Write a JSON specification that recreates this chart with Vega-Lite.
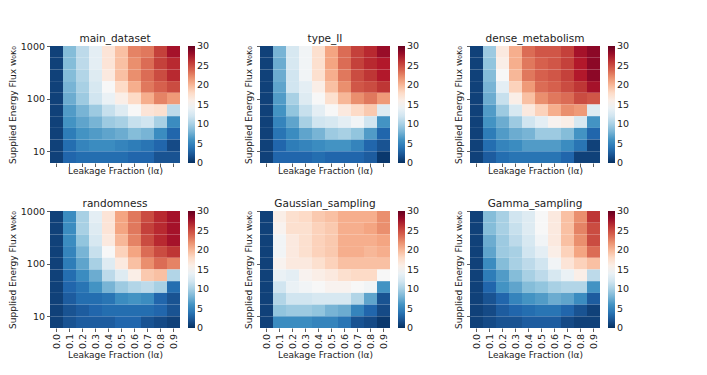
{
 "$schema": "https://vega.github.io/schema/vega-lite/v6.json",
 "padding": {"left": 8, "top": 33, "right": 0, "bottom": 0},
 "config": {
  "font": "DejaVu Sans",
  "view": {"stroke": null},
  "axis": {"domain": false, "grid": false, "tickColor": "#333", "tickSize": 3.5, "tickWidth": 0.8, "labelFont": "DejaVu Sans", "labelFontSize": 9.5, "labelColor": "#222", "titleFont": "DejaVu Sans", "titleFontSize": 9, "titleFontWeight": "normal", "titleColor": "#222", "labelPadding": 2, "titlePadding": 3},
  "legend": {"gradientLength": 117, "gradientThickness": 7, "gradientStrokeWidth": 0, "labelFont": "DejaVu Sans", "labelFontSize": 9.5, "labelColor": "#222", "offset": 8, "labelOffset": 4, "direction": "vertical"},
  "title": {"font": "DejaVu Sans", "fontSize": 10.5, "fontWeight": "normal", "color": "#222", "offset": -3, "frame": "group"}
 },
 "columns": 3,
 "spacing": {"row": 22, "column": 34},
 "resolve": {"scale": {"color": "independent"}, "legend": {"color": "independent"}},
 "concat": [
  {"title": {"text": "main_dataset", "offset": -3}, "data": {"name": "main_dataset"}, "width": 130, "height": 117, "mark": "rect",
   "encoding": {
    "x": {"field": "l", "type": "ordinal", "scale": {"paddingInner": 0, "paddingOuter": 0}, "axis": {"title": "Leakage Fraction (lα)", "labels": false, "titlePadding": -0.5}},
    "y": {"field": "hi", "type": "quantitative", "scale": {"type": "log", "domain": [5.995, 1000], "nice": false}, "axis": {"title": "Supplied Energy Flux w₀κ₀", "values": [10, 100, 1000], "format": "d"}},
    "y2": {"field": "lo"},
    "color": {"field": "v", "type": "quantitative", "scale": {"domain": [0, 3, 6, 9, 12, 15, 18, 21, 24, 27, 30], "range": ["#053061", "#2166ac", "#4393c3", "#92c5de", "#d1e5f0", "#f7f7f7", "#fddbc7", "#f4a582", "#d6604d", "#b2182b", "#67001f"]}, "legend": {"title": null, "values": [0, 5, 10, 15, 20, 25, 30], "encode": {"labels": {"update": {"baseline": {"value": "middle"}}}}}}}},
  {"title": {"text": "type_II", "offset": 1.5}, "data": {"name": "type_II"}, "width": 130, "height": 117, "mark": "rect",
   "encoding": {
    "x": {"field": "l", "type": "ordinal", "scale": {"paddingInner": 0, "paddingOuter": 0}, "axis": {"title": "Leakage Fraction (lα)", "labels": false, "titlePadding": -0.5}},
    "y": {"field": "hi", "type": "quantitative", "scale": {"type": "log", "domain": [5.995, 1000], "nice": false}, "axis": {"title": "Supplied Energy Flux w₀κ₀", "values": [10, 100, 1000], "labels": false}},
    "y2": {"field": "lo"},
    "color": {"field": "v", "type": "quantitative", "scale": {"domain": [0, 3, 6, 9, 12, 15, 18, 21, 24, 27, 30], "range": ["#053061", "#2166ac", "#4393c3", "#92c5de", "#d1e5f0", "#f7f7f7", "#fddbc7", "#f4a582", "#d6604d", "#b2182b", "#67001f"]}, "legend": {"title": null, "values": [0, 5, 10, 15, 20, 25, 30], "encode": {"labels": {"update": {"baseline": {"value": "middle"}}}}}}}},
  {"title": {"text": "dense_metabolism", "offset": 1.5}, "data": {"name": "dense_metabolism"}, "width": 130, "height": 117, "mark": "rect",
   "encoding": {
    "x": {"field": "l", "type": "ordinal", "scale": {"paddingInner": 0, "paddingOuter": 0}, "axis": {"title": "Leakage Fraction (lα)", "labels": false, "titlePadding": -0.5}},
    "y": {"field": "hi", "type": "quantitative", "scale": {"type": "log", "domain": [5.995, 1000], "nice": false}, "axis": {"title": "Supplied Energy Flux w₀κ₀", "values": [10, 100, 1000], "labels": false}},
    "y2": {"field": "lo"},
    "color": {"field": "v", "type": "quantitative", "scale": {"domain": [0, 3, 6, 9, 12, 15, 18, 21, 24, 27, 30], "range": ["#053061", "#2166ac", "#4393c3", "#92c5de", "#d1e5f0", "#f7f7f7", "#fddbc7", "#f4a582", "#d6604d", "#b2182b", "#67001f"]}, "legend": {"title": null, "values": [0, 5, 10, 15, 20, 25, 30], "encode": {"labels": {"update": {"baseline": {"value": "middle"}}}}}}}},
  {"title": {"text": "randomness", "offset": -3}, "data": {"name": "randomness"}, "width": 130, "height": 117, "mark": "rect",
   "encoding": {
    "x": {"field": "l", "type": "ordinal", "scale": {"paddingInner": 0, "paddingOuter": 0}, "axis": {"title": "Leakage Fraction (lα)", "labelAngle": -90, "titlePadding": 2}},
    "y": {"field": "hi", "type": "quantitative", "scale": {"type": "log", "domain": [5.995, 1000], "nice": false}, "axis": {"title": "Supplied Energy Flux w₀κ₀", "values": [10, 100, 1000], "format": "d"}},
    "y2": {"field": "lo"},
    "color": {"field": "v", "type": "quantitative", "scale": {"domain": [0, 3, 6, 9, 12, 15, 18, 21, 24, 27, 30], "range": ["#053061", "#2166ac", "#4393c3", "#92c5de", "#d1e5f0", "#f7f7f7", "#fddbc7", "#f4a582", "#d6604d", "#b2182b", "#67001f"]}, "legend": {"title": null, "values": [0, 5, 10, 15, 20, 25, 30], "encode": {"labels": {"update": {"baseline": {"value": "middle"}}}}}}}},
  {"title": {"text": "Gaussian_sampling", "offset": 1.5}, "data": {"name": "Gaussian_sampling"}, "width": 130, "height": 117, "mark": "rect",
   "encoding": {
    "x": {"field": "l", "type": "ordinal", "scale": {"paddingInner": 0, "paddingOuter": 0}, "axis": {"title": "Leakage Fraction (lα)", "labelAngle": -90, "titlePadding": 2}},
    "y": {"field": "hi", "type": "quantitative", "scale": {"type": "log", "domain": [5.995, 1000], "nice": false}, "axis": {"title": "Supplied Energy Flux w₀κ₀", "values": [10, 100, 1000], "labels": false}},
    "y2": {"field": "lo"},
    "color": {"field": "v", "type": "quantitative", "scale": {"domain": [0, 3, 6, 9, 12, 15, 18, 21, 24, 27, 30], "range": ["#053061", "#2166ac", "#4393c3", "#92c5de", "#d1e5f0", "#f7f7f7", "#fddbc7", "#f4a582", "#d6604d", "#b2182b", "#67001f"]}, "legend": {"title": null, "values": [0, 5, 10, 15, 20, 25, 30], "encode": {"labels": {"update": {"baseline": {"value": "middle"}}}}}}}},
  {"title": {"text": "Gamma_sampling", "offset": 1.5}, "data": {"name": "Gamma_sampling"}, "width": 130, "height": 117, "mark": "rect",
   "encoding": {
    "x": {"field": "l", "type": "ordinal", "scale": {"paddingInner": 0, "paddingOuter": 0}, "axis": {"title": "Leakage Fraction (lα)", "labelAngle": -90, "titlePadding": 2}},
    "y": {"field": "hi", "type": "quantitative", "scale": {"type": "log", "domain": [5.995, 1000], "nice": false}, "axis": {"title": "Supplied Energy Flux w₀κ₀", "values": [10, 100, 1000], "labels": false}},
    "y2": {"field": "lo"},
    "color": {"field": "v", "type": "quantitative", "scale": {"domain": [0, 3, 6, 9, 12, 15, 18, 21, 24, 27, 30], "range": ["#053061", "#2166ac", "#4393c3", "#92c5de", "#d1e5f0", "#f7f7f7", "#fddbc7", "#f4a582", "#d6604d", "#b2182b", "#67001f"]}, "legend": {"title": null, "values": [0, 5, 10, 15, 20, 25, 30], "encode": {"labels": {"update": {"baseline": {"value": "middle"}}}}}}}}
 ],
 "datasets": {
  "main_dataset": [
   {"l":"0.0","hi":1000,"lo":599.5,"v":1},{"l":"0.1","hi":1000,"lo":599.5,"v":8.5},{"l":"0.2","hi":1000,"lo":599.5,"v":11},{"l":"0.3","hi":1000,"lo":599.5,"v":13.5},{"l":"0.4","hi":1000,"lo":599.5,"v":17},{"l":"0.5","hi":1000,"lo":599.5,"v":19.5},{"l":"0.6","hi":1000,"lo":599.5,"v":22.5},{"l":"0.7","hi":1000,"lo":599.5,"v":23},{"l":"0.8","hi":1000,"lo":599.5,"v":25.5},{"l":"0.9","hi":1000,"lo":599.5,"v":27.5},
   {"l":"0.0","hi":599.5,"lo":359.4,"v":1},{"l":"0.1","hi":599.5,"lo":359.4,"v":8.5},{"l":"0.2","hi":599.5,"lo":359.4,"v":11},{"l":"0.3","hi":599.5,"lo":359.4,"v":13.5},{"l":"0.4","hi":599.5,"lo":359.4,"v":17},{"l":"0.5","hi":599.5,"lo":359.4,"v":19.5},{"l":"0.6","hi":599.5,"lo":359.4,"v":22},{"l":"0.7","hi":599.5,"lo":359.4,"v":23.5},{"l":"0.8","hi":599.5,"lo":359.4,"v":25.5},{"l":"0.9","hi":599.5,"lo":359.4,"v":26.5},
   {"l":"0.0","hi":359.4,"lo":215.4,"v":1},{"l":"0.1","hi":359.4,"lo":215.4,"v":8.5},{"l":"0.2","hi":359.4,"lo":215.4,"v":10.5},{"l":"0.3","hi":359.4,"lo":215.4,"v":13},{"l":"0.4","hi":359.4,"lo":215.4,"v":16.5},{"l":"0.5","hi":359.4,"lo":215.4,"v":19.5},{"l":"0.6","hi":359.4,"lo":215.4,"v":22},{"l":"0.7","hi":359.4,"lo":215.4,"v":23.5},{"l":"0.8","hi":359.4,"lo":215.4,"v":25},{"l":"0.9","hi":359.4,"lo":215.4,"v":26.5},
   {"l":"0.0","hi":215.4,"lo":129.2,"v":1},{"l":"0.1","hi":215.4,"lo":129.2,"v":8},{"l":"0.2","hi":215.4,"lo":129.2,"v":10},{"l":"0.3","hi":215.4,"lo":129.2,"v":12.5},{"l":"0.4","hi":215.4,"lo":129.2,"v":15},{"l":"0.5","hi":215.4,"lo":129.2,"v":18},{"l":"0.6","hi":215.4,"lo":129.2,"v":20.5},{"l":"0.7","hi":215.4,"lo":129.2,"v":23},{"l":"0.8","hi":215.4,"lo":129.2,"v":24},{"l":"0.9","hi":215.4,"lo":129.2,"v":25},
   {"l":"0.0","hi":129.2,"lo":77.43,"v":1},{"l":"0.1","hi":129.2,"lo":77.43,"v":7.5},{"l":"0.2","hi":129.2,"lo":77.43,"v":9.5},{"l":"0.3","hi":129.2,"lo":77.43,"v":12},{"l":"0.4","hi":129.2,"lo":77.43,"v":14},{"l":"0.5","hi":129.2,"lo":77.43,"v":16},{"l":"0.6","hi":129.2,"lo":77.43,"v":18},{"l":"0.7","hi":129.2,"lo":77.43,"v":20.5},{"l":"0.8","hi":129.2,"lo":77.43,"v":22.5},{"l":"0.9","hi":129.2,"lo":77.43,"v":21.5},
   {"l":"0.0","hi":77.43,"lo":46.42,"v":1},{"l":"0.1","hi":77.43,"lo":46.42,"v":6.5},{"l":"0.2","hi":77.43,"lo":46.42,"v":8},{"l":"0.3","hi":77.43,"lo":46.42,"v":9.5},{"l":"0.4","hi":77.43,"lo":46.42,"v":11.5},{"l":"0.5","hi":77.43,"lo":46.42,"v":13},{"l":"0.6","hi":77.43,"lo":46.42,"v":15},{"l":"0.7","hi":77.43,"lo":46.42,"v":17},{"l":"0.8","hi":77.43,"lo":46.42,"v":17.5},{"l":"0.9","hi":77.43,"lo":46.42,"v":11},
   {"l":"0.0","hi":46.42,"lo":27.83,"v":1},{"l":"0.1","hi":46.42,"lo":27.83,"v":6},{"l":"0.2","hi":46.42,"lo":27.83,"v":7},{"l":"0.3","hi":46.42,"lo":27.83,"v":8},{"l":"0.4","hi":46.42,"lo":27.83,"v":9.5},{"l":"0.5","hi":46.42,"lo":27.83,"v":10},{"l":"0.6","hi":46.42,"lo":27.83,"v":11.5},{"l":"0.7","hi":46.42,"lo":27.83,"v":12},{"l":"0.8","hi":46.42,"lo":27.83,"v":10},{"l":"0.9","hi":46.42,"lo":27.83,"v":5.5},
   {"l":"0.0","hi":27.83,"lo":16.68,"v":1},{"l":"0.1","hi":27.83,"lo":16.68,"v":4.5},{"l":"0.2","hi":27.83,"lo":16.68,"v":6},{"l":"0.3","hi":27.83,"lo":16.68,"v":6.5},{"l":"0.4","hi":27.83,"lo":16.68,"v":7},{"l":"0.5","hi":27.83,"lo":16.68,"v":7.5},{"l":"0.6","hi":27.83,"lo":16.68,"v":8.5},{"l":"0.7","hi":27.83,"lo":16.68,"v":8},{"l":"0.8","hi":27.83,"lo":16.68,"v":5.5},{"l":"0.9","hi":27.83,"lo":16.68,"v":3},
   {"l":"0.0","hi":16.68,"lo":10,"v":1},{"l":"0.1","hi":16.68,"lo":10,"v":3.5},{"l":"0.2","hi":16.68,"lo":10,"v":5},{"l":"0.3","hi":16.68,"lo":10,"v":5.5},{"l":"0.4","hi":16.68,"lo":10,"v":5.5},{"l":"0.5","hi":16.68,"lo":10,"v":5},{"l":"0.6","hi":16.68,"lo":10,"v":4.5},{"l":"0.7","hi":16.68,"lo":10,"v":4},{"l":"0.8","hi":16.68,"lo":10,"v":3},{"l":"0.9","hi":16.68,"lo":10,"v":1.5},
   {"l":"0.0","hi":10,"lo":5.995,"v":1},{"l":"0.1","hi":10,"lo":5.995,"v":3},{"l":"0.2","hi":10,"lo":5.995,"v":3.5},{"l":"0.3","hi":10,"lo":5.995,"v":3.5},{"l":"0.4","hi":10,"lo":5.995,"v":3.5},{"l":"0.5","hi":10,"lo":5.995,"v":3.5},{"l":"0.6","hi":10,"lo":5.995,"v":3},{"l":"0.7","hi":10,"lo":5.995,"v":3},{"l":"0.8","hi":10,"lo":5.995,"v":2},{"l":"0.9","hi":10,"lo":5.995,"v":2}
  ],
  "type_II": [
   {"l":"0.0","hi":1000,"lo":599.5,"v":1},{"l":"0.1","hi":1000,"lo":599.5,"v":8},{"l":"0.2","hi":1000,"lo":599.5,"v":12.5},{"l":"0.3","hi":1000,"lo":599.5,"v":14.5},{"l":"0.4","hi":1000,"lo":599.5,"v":17.5},{"l":"0.5","hi":1000,"lo":599.5,"v":21},{"l":"0.6","hi":1000,"lo":599.5,"v":23.5},{"l":"0.7","hi":1000,"lo":599.5,"v":25.5},{"l":"0.8","hi":1000,"lo":599.5,"v":26.5},{"l":"0.9","hi":1000,"lo":599.5,"v":28},
   {"l":"0.0","hi":599.5,"lo":359.4,"v":1},{"l":"0.1","hi":599.5,"lo":359.4,"v":7.5},{"l":"0.2","hi":599.5,"lo":359.4,"v":12.5},{"l":"0.3","hi":599.5,"lo":359.4,"v":14.5},{"l":"0.4","hi":599.5,"lo":359.4,"v":17.5},{"l":"0.5","hi":599.5,"lo":359.4,"v":21},{"l":"0.6","hi":599.5,"lo":359.4,"v":23.5},{"l":"0.7","hi":599.5,"lo":359.4,"v":25.5},{"l":"0.8","hi":599.5,"lo":359.4,"v":26.5},{"l":"0.9","hi":599.5,"lo":359.4,"v":27},
   {"l":"0.0","hi":359.4,"lo":215.4,"v":1},{"l":"0.1","hi":359.4,"lo":215.4,"v":7.5},{"l":"0.2","hi":359.4,"lo":215.4,"v":12},{"l":"0.3","hi":359.4,"lo":215.4,"v":14.5},{"l":"0.4","hi":359.4,"lo":215.4,"v":17.5},{"l":"0.5","hi":359.4,"lo":215.4,"v":20.5},{"l":"0.6","hi":359.4,"lo":215.4,"v":23},{"l":"0.7","hi":359.4,"lo":215.4,"v":25},{"l":"0.8","hi":359.4,"lo":215.4,"v":26},{"l":"0.9","hi":359.4,"lo":215.4,"v":27},
   {"l":"0.0","hi":215.4,"lo":129.2,"v":1},{"l":"0.1","hi":215.4,"lo":129.2,"v":7},{"l":"0.2","hi":215.4,"lo":129.2,"v":12},{"l":"0.3","hi":215.4,"lo":129.2,"v":13.5},{"l":"0.4","hi":215.4,"lo":129.2,"v":16},{"l":"0.5","hi":215.4,"lo":129.2,"v":19.5},{"l":"0.6","hi":215.4,"lo":129.2,"v":22},{"l":"0.7","hi":215.4,"lo":129.2,"v":24.5},{"l":"0.8","hi":215.4,"lo":129.2,"v":25},{"l":"0.9","hi":215.4,"lo":129.2,"v":26},
   {"l":"0.0","hi":129.2,"lo":77.43,"v":1},{"l":"0.1","hi":129.2,"lo":77.43,"v":6.5},{"l":"0.2","hi":129.2,"lo":77.43,"v":10},{"l":"0.3","hi":129.2,"lo":77.43,"v":13},{"l":"0.4","hi":129.2,"lo":77.43,"v":15},{"l":"0.5","hi":129.2,"lo":77.43,"v":17.5},{"l":"0.6","hi":129.2,"lo":77.43,"v":20},{"l":"0.7","hi":129.2,"lo":77.43,"v":22},{"l":"0.8","hi":129.2,"lo":77.43,"v":23},{"l":"0.9","hi":129.2,"lo":77.43,"v":21.5},
   {"l":"0.0","hi":77.43,"lo":46.42,"v":1},{"l":"0.1","hi":77.43,"lo":46.42,"v":6},{"l":"0.2","hi":77.43,"lo":46.42,"v":9},{"l":"0.3","hi":77.43,"lo":46.42,"v":11.5},{"l":"0.4","hi":77.43,"lo":46.42,"v":13.5},{"l":"0.5","hi":77.43,"lo":46.42,"v":15},{"l":"0.6","hi":77.43,"lo":46.42,"v":16.5},{"l":"0.7","hi":77.43,"lo":46.42,"v":18},{"l":"0.8","hi":77.43,"lo":46.42,"v":19},{"l":"0.9","hi":77.43,"lo":46.42,"v":13},
   {"l":"0.0","hi":46.42,"lo":27.83,"v":1},{"l":"0.1","hi":46.42,"lo":27.83,"v":5},{"l":"0.2","hi":46.42,"lo":27.83,"v":7},{"l":"0.3","hi":46.42,"lo":27.83,"v":10},{"l":"0.4","hi":46.42,"lo":27.83,"v":12},{"l":"0.5","hi":46.42,"lo":27.83,"v":12.5},{"l":"0.6","hi":46.42,"lo":27.83,"v":13.5},{"l":"0.7","hi":46.42,"lo":27.83,"v":14.5},{"l":"0.8","hi":46.42,"lo":27.83,"v":12},{"l":"0.9","hi":46.42,"lo":27.83,"v":6},
   {"l":"0.0","hi":27.83,"lo":16.68,"v":1},{"l":"0.1","hi":27.83,"lo":16.68,"v":4},{"l":"0.2","hi":27.83,"lo":16.68,"v":5.5},{"l":"0.3","hi":27.83,"lo":16.68,"v":7},{"l":"0.4","hi":27.83,"lo":16.68,"v":8},{"l":"0.5","hi":27.83,"lo":16.68,"v":9.5},{"l":"0.6","hi":27.83,"lo":16.68,"v":10},{"l":"0.7","hi":27.83,"lo":16.68,"v":9},{"l":"0.8","hi":27.83,"lo":16.68,"v":6.5},{"l":"0.9","hi":27.83,"lo":16.68,"v":3},
   {"l":"0.0","hi":16.68,"lo":10,"v":1},{"l":"0.1","hi":16.68,"lo":10,"v":3},{"l":"0.2","hi":16.68,"lo":10,"v":4.5},{"l":"0.3","hi":16.68,"lo":10,"v":5},{"l":"0.4","hi":16.68,"lo":10,"v":5.5},{"l":"0.5","hi":16.68,"lo":10,"v":6},{"l":"0.6","hi":16.68,"lo":10,"v":6},{"l":"0.7","hi":16.68,"lo":10,"v":5},{"l":"0.8","hi":16.68,"lo":10,"v":3},{"l":"0.9","hi":16.68,"lo":10,"v":2},
   {"l":"0.0","hi":10,"lo":5.995,"v":1},{"l":"0.1","hi":10,"lo":5.995,"v":3},{"l":"0.2","hi":10,"lo":5.995,"v":3},{"l":"0.3","hi":10,"lo":5.995,"v":3},{"l":"0.4","hi":10,"lo":5.995,"v":3.5},{"l":"0.5","hi":10,"lo":5.995,"v":3},{"l":"0.6","hi":10,"lo":5.995,"v":3},{"l":"0.7","hi":10,"lo":5.995,"v":3},{"l":"0.8","hi":10,"lo":5.995,"v":2.5},{"l":"0.9","hi":10,"lo":5.995,"v":0.5}
  ],
  "dense_metabolism": [
   {"l":"0.0","hi":1000,"lo":599.5,"v":1},{"l":"0.1","hi":1000,"lo":599.5,"v":9.5},{"l":"0.2","hi":1000,"lo":599.5,"v":16.5},{"l":"0.3","hi":1000,"lo":599.5,"v":20.5},{"l":"0.4","hi":1000,"lo":599.5,"v":23.5},{"l":"0.5","hi":1000,"lo":599.5,"v":24.5},{"l":"0.6","hi":1000,"lo":599.5,"v":24.5},{"l":"0.7","hi":1000,"lo":599.5,"v":25.5},{"l":"0.8","hi":1000,"lo":599.5,"v":27.5},{"l":"0.9","hi":1000,"lo":599.5,"v":28.5},
   {"l":"0.0","hi":599.5,"lo":359.4,"v":1},{"l":"0.1","hi":599.5,"lo":359.4,"v":9},{"l":"0.2","hi":599.5,"lo":359.4,"v":16},{"l":"0.3","hi":599.5,"lo":359.4,"v":20.5},{"l":"0.4","hi":599.5,"lo":359.4,"v":23},{"l":"0.5","hi":599.5,"lo":359.4,"v":24},{"l":"0.6","hi":599.5,"lo":359.4,"v":24.5},{"l":"0.7","hi":599.5,"lo":359.4,"v":25.5},{"l":"0.8","hi":599.5,"lo":359.4,"v":27},{"l":"0.9","hi":599.5,"lo":359.4,"v":28.5},
   {"l":"0.0","hi":359.4,"lo":215.4,"v":1},{"l":"0.1","hi":359.4,"lo":215.4,"v":8.5},{"l":"0.2","hi":359.4,"lo":215.4,"v":15},{"l":"0.3","hi":359.4,"lo":215.4,"v":20},{"l":"0.4","hi":359.4,"lo":215.4,"v":23},{"l":"0.5","hi":359.4,"lo":215.4,"v":24},{"l":"0.6","hi":359.4,"lo":215.4,"v":24.5},{"l":"0.7","hi":359.4,"lo":215.4,"v":25.5},{"l":"0.8","hi":359.4,"lo":215.4,"v":27},{"l":"0.9","hi":359.4,"lo":215.4,"v":28.5},
   {"l":"0.0","hi":215.4,"lo":129.2,"v":1},{"l":"0.1","hi":215.4,"lo":129.2,"v":8},{"l":"0.2","hi":215.4,"lo":129.2,"v":13.5},{"l":"0.3","hi":215.4,"lo":129.2,"v":18.5},{"l":"0.4","hi":215.4,"lo":129.2,"v":21.5},{"l":"0.5","hi":215.4,"lo":129.2,"v":23.5},{"l":"0.6","hi":215.4,"lo":129.2,"v":24},{"l":"0.7","hi":215.4,"lo":129.2,"v":25},{"l":"0.8","hi":215.4,"lo":129.2,"v":26},{"l":"0.9","hi":215.4,"lo":129.2,"v":27.5},
   {"l":"0.0","hi":129.2,"lo":77.43,"v":1},{"l":"0.1","hi":129.2,"lo":77.43,"v":7.5},{"l":"0.2","hi":129.2,"lo":77.43,"v":11.5},{"l":"0.3","hi":129.2,"lo":77.43,"v":16},{"l":"0.4","hi":129.2,"lo":77.43,"v":19.5},{"l":"0.5","hi":129.2,"lo":77.43,"v":22},{"l":"0.6","hi":129.2,"lo":77.43,"v":23},{"l":"0.7","hi":129.2,"lo":77.43,"v":23.5},{"l":"0.8","hi":129.2,"lo":77.43,"v":25},{"l":"0.9","hi":129.2,"lo":77.43,"v":24.5},
   {"l":"0.0","hi":77.43,"lo":46.42,"v":1},{"l":"0.1","hi":77.43,"lo":46.42,"v":6.5},{"l":"0.2","hi":77.43,"lo":46.42,"v":9.5},{"l":"0.3","hi":77.43,"lo":46.42,"v":12.5},{"l":"0.4","hi":77.43,"lo":46.42,"v":16.5},{"l":"0.5","hi":77.43,"lo":46.42,"v":18.5},{"l":"0.6","hi":77.43,"lo":46.42,"v":20.5},{"l":"0.7","hi":77.43,"lo":46.42,"v":22},{"l":"0.8","hi":77.43,"lo":46.42,"v":21.5},{"l":"0.9","hi":77.43,"lo":46.42,"v":13},
   {"l":"0.0","hi":46.42,"lo":27.83,"v":1},{"l":"0.1","hi":46.42,"lo":27.83,"v":6},{"l":"0.2","hi":46.42,"lo":27.83,"v":7.5},{"l":"0.3","hi":46.42,"lo":27.83,"v":9.5},{"l":"0.4","hi":46.42,"lo":27.83,"v":12},{"l":"0.5","hi":46.42,"lo":27.83,"v":13.5},{"l":"0.6","hi":46.42,"lo":27.83,"v":15.5},{"l":"0.7","hi":46.42,"lo":27.83,"v":16},{"l":"0.8","hi":46.42,"lo":27.83,"v":12.5},{"l":"0.9","hi":46.42,"lo":27.83,"v":6},
   {"l":"0.0","hi":27.83,"lo":16.68,"v":1},{"l":"0.1","hi":27.83,"lo":16.68,"v":4.5},{"l":"0.2","hi":27.83,"lo":16.68,"v":6.5},{"l":"0.3","hi":27.83,"lo":16.68,"v":7.5},{"l":"0.4","hi":27.83,"lo":16.68,"v":8},{"l":"0.5","hi":27.83,"lo":16.68,"v":9.5},{"l":"0.6","hi":27.83,"lo":16.68,"v":9.5},{"l":"0.7","hi":27.83,"lo":16.68,"v":8.5},{"l":"0.8","hi":27.83,"lo":16.68,"v":6},{"l":"0.9","hi":27.83,"lo":16.68,"v":3},
   {"l":"0.0","hi":16.68,"lo":10,"v":1},{"l":"0.1","hi":16.68,"lo":10,"v":3.5},{"l":"0.2","hi":16.68,"lo":10,"v":5},{"l":"0.3","hi":16.68,"lo":10,"v":5.5},{"l":"0.4","hi":16.68,"lo":10,"v":6.5},{"l":"0.5","hi":16.68,"lo":10,"v":6.5},{"l":"0.6","hi":16.68,"lo":10,"v":6.5},{"l":"0.7","hi":16.68,"lo":10,"v":5.5},{"l":"0.8","hi":16.68,"lo":10,"v":4},{"l":"0.9","hi":16.68,"lo":10,"v":1},
   {"l":"0.0","hi":10,"lo":5.995,"v":1},{"l":"0.1","hi":10,"lo":5.995,"v":2.5},{"l":"0.2","hi":10,"lo":5.995,"v":3.5},{"l":"0.3","hi":10,"lo":5.995,"v":4},{"l":"0.4","hi":10,"lo":5.995,"v":4},{"l":"0.5","hi":10,"lo":5.995,"v":4},{"l":"0.6","hi":10,"lo":5.995,"v":4},{"l":"0.7","hi":10,"lo":5.995,"v":3},{"l":"0.8","hi":10,"lo":5.995,"v":1},{"l":"0.9","hi":10,"lo":5.995,"v":1}
  ],
  "randomness": [
   {"l":"0.0","hi":1000,"lo":599.5,"v":1},{"l":"0.1","hi":1000,"lo":599.5,"v":5.5},{"l":"0.2","hi":1000,"lo":599.5,"v":10},{"l":"0.3","hi":1000,"lo":599.5,"v":13.5},{"l":"0.4","hi":1000,"lo":599.5,"v":17},{"l":"0.5","hi":1000,"lo":599.5,"v":21},{"l":"0.6","hi":1000,"lo":599.5,"v":23},{"l":"0.7","hi":1000,"lo":599.5,"v":25},{"l":"0.8","hi":1000,"lo":599.5,"v":26.5},{"l":"0.9","hi":1000,"lo":599.5,"v":27.5},
   {"l":"0.0","hi":599.5,"lo":359.4,"v":1},{"l":"0.1","hi":599.5,"lo":359.4,"v":5.5},{"l":"0.2","hi":599.5,"lo":359.4,"v":10},{"l":"0.3","hi":599.5,"lo":359.4,"v":13},{"l":"0.4","hi":599.5,"lo":359.4,"v":17},{"l":"0.5","hi":599.5,"lo":359.4,"v":21},{"l":"0.6","hi":599.5,"lo":359.4,"v":23},{"l":"0.7","hi":599.5,"lo":359.4,"v":25.5},{"l":"0.8","hi":599.5,"lo":359.4,"v":26.5},{"l":"0.9","hi":599.5,"lo":359.4,"v":27.5},
   {"l":"0.0","hi":359.4,"lo":215.4,"v":1},{"l":"0.1","hi":359.4,"lo":215.4,"v":5.5},{"l":"0.2","hi":359.4,"lo":215.4,"v":9},{"l":"0.3","hi":359.4,"lo":215.4,"v":12.5},{"l":"0.4","hi":359.4,"lo":215.4,"v":16.5},{"l":"0.5","hi":359.4,"lo":215.4,"v":20},{"l":"0.6","hi":359.4,"lo":215.4,"v":22.5},{"l":"0.7","hi":359.4,"lo":215.4,"v":25},{"l":"0.8","hi":359.4,"lo":215.4,"v":26.5},{"l":"0.9","hi":359.4,"lo":215.4,"v":27.5},
   {"l":"0.0","hi":215.4,"lo":129.2,"v":1},{"l":"0.1","hi":215.4,"lo":129.2,"v":5},{"l":"0.2","hi":215.4,"lo":129.2,"v":8},{"l":"0.3","hi":215.4,"lo":129.2,"v":11.5},{"l":"0.4","hi":215.4,"lo":129.2,"v":15},{"l":"0.5","hi":215.4,"lo":129.2,"v":18.5},{"l":"0.6","hi":215.4,"lo":129.2,"v":21},{"l":"0.7","hi":215.4,"lo":129.2,"v":23.5},{"l":"0.8","hi":215.4,"lo":129.2,"v":25},{"l":"0.9","hi":215.4,"lo":129.2,"v":26},
   {"l":"0.0","hi":129.2,"lo":77.43,"v":1},{"l":"0.1","hi":129.2,"lo":77.43,"v":4.5},{"l":"0.2","hi":129.2,"lo":77.43,"v":7},{"l":"0.3","hi":129.2,"lo":77.43,"v":10},{"l":"0.4","hi":129.2,"lo":77.43,"v":13},{"l":"0.5","hi":129.2,"lo":77.43,"v":16.5},{"l":"0.6","hi":129.2,"lo":77.43,"v":19.5},{"l":"0.7","hi":129.2,"lo":77.43,"v":22},{"l":"0.8","hi":129.2,"lo":77.43,"v":23.5},{"l":"0.9","hi":129.2,"lo":77.43,"v":22.5},
   {"l":"0.0","hi":77.43,"lo":46.42,"v":1},{"l":"0.1","hi":77.43,"lo":46.42,"v":3.5},{"l":"0.2","hi":77.43,"lo":46.42,"v":5.5},{"l":"0.3","hi":77.43,"lo":46.42,"v":7.5},{"l":"0.4","hi":77.43,"lo":46.42,"v":11},{"l":"0.5","hi":77.43,"lo":46.42,"v":13},{"l":"0.6","hi":77.43,"lo":46.42,"v":16},{"l":"0.7","hi":77.43,"lo":46.42,"v":19},{"l":"0.8","hi":77.43,"lo":46.42,"v":19.5},{"l":"0.9","hi":77.43,"lo":46.42,"v":10.5},
   {"l":"0.0","hi":46.42,"lo":27.83,"v":1},{"l":"0.1","hi":46.42,"lo":27.83,"v":3},{"l":"0.2","hi":46.42,"lo":27.83,"v":4},{"l":"0.3","hi":46.42,"lo":27.83,"v":6},{"l":"0.4","hi":46.42,"lo":27.83,"v":8},{"l":"0.5","hi":46.42,"lo":27.83,"v":9.5},{"l":"0.6","hi":46.42,"lo":27.83,"v":10.5},{"l":"0.7","hi":46.42,"lo":27.83,"v":11},{"l":"0.8","hi":46.42,"lo":27.83,"v":10},{"l":"0.9","hi":46.42,"lo":27.83,"v":3.5},
   {"l":"0.0","hi":27.83,"lo":16.68,"v":1},{"l":"0.1","hi":27.83,"lo":16.68,"v":2.5},{"l":"0.2","hi":27.83,"lo":16.68,"v":3.5},{"l":"0.3","hi":27.83,"lo":16.68,"v":3.5},{"l":"0.4","hi":27.83,"lo":16.68,"v":4},{"l":"0.5","hi":27.83,"lo":16.68,"v":5.5},{"l":"0.6","hi":27.83,"lo":16.68,"v":6},{"l":"0.7","hi":27.83,"lo":16.68,"v":5.5},{"l":"0.8","hi":27.83,"lo":16.68,"v":3},{"l":"0.9","hi":27.83,"lo":16.68,"v":2},
   {"l":"0.0","hi":16.68,"lo":10,"v":1},{"l":"0.1","hi":16.68,"lo":10,"v":2},{"l":"0.2","hi":16.68,"lo":10,"v":2.5},{"l":"0.3","hi":16.68,"lo":10,"v":3},{"l":"0.4","hi":16.68,"lo":10,"v":3.5},{"l":"0.5","hi":16.68,"lo":10,"v":3.5},{"l":"0.6","hi":16.68,"lo":10,"v":3.5},{"l":"0.7","hi":16.68,"lo":10,"v":3.5},{"l":"0.8","hi":16.68,"lo":10,"v":3},{"l":"0.9","hi":16.68,"lo":10,"v":2},
   {"l":"0.0","hi":10,"lo":5.995,"v":1},{"l":"0.1","hi":10,"lo":5.995,"v":2},{"l":"0.2","hi":10,"lo":5.995,"v":2.5},{"l":"0.3","hi":10,"lo":5.995,"v":2.5},{"l":"0.4","hi":10,"lo":5.995,"v":2.5},{"l":"0.5","hi":10,"lo":5.995,"v":3},{"l":"0.6","hi":10,"lo":5.995,"v":3},{"l":"0.7","hi":10,"lo":5.995,"v":2},{"l":"0.8","hi":10,"lo":5.995,"v":1.5},{"l":"0.9","hi":10,"lo":5.995,"v":1}
  ],
  "Gaussian_sampling": [
   {"l":"0.0","hi":1000,"lo":599.5,"v":1},{"l":"0.1","hi":1000,"lo":599.5,"v":16},{"l":"0.2","hi":1000,"lo":599.5,"v":17.5},{"l":"0.3","hi":1000,"lo":599.5,"v":18},{"l":"0.4","hi":1000,"lo":599.5,"v":19},{"l":"0.5","hi":1000,"lo":599.5,"v":19.5},{"l":"0.6","hi":1000,"lo":599.5,"v":20.5},{"l":"0.7","hi":1000,"lo":599.5,"v":20.5},{"l":"0.8","hi":1000,"lo":599.5,"v":20.5},{"l":"0.9","hi":1000,"lo":599.5,"v":22},
   {"l":"0.0","hi":599.5,"lo":359.4,"v":1},{"l":"0.1","hi":599.5,"lo":359.4,"v":15.5},{"l":"0.2","hi":599.5,"lo":359.4,"v":17.5},{"l":"0.3","hi":599.5,"lo":359.4,"v":17.5},{"l":"0.4","hi":599.5,"lo":359.4,"v":18.5},{"l":"0.5","hi":599.5,"lo":359.4,"v":19},{"l":"0.6","hi":599.5,"lo":359.4,"v":20.5},{"l":"0.7","hi":599.5,"lo":359.4,"v":20.5},{"l":"0.8","hi":599.5,"lo":359.4,"v":21},{"l":"0.9","hi":599.5,"lo":359.4,"v":22},
   {"l":"0.0","hi":359.4,"lo":215.4,"v":1},{"l":"0.1","hi":359.4,"lo":215.4,"v":14.5},{"l":"0.2","hi":359.4,"lo":215.4,"v":16.5},{"l":"0.3","hi":359.4,"lo":215.4,"v":17.5},{"l":"0.4","hi":359.4,"lo":215.4,"v":18.5},{"l":"0.5","hi":359.4,"lo":215.4,"v":19},{"l":"0.6","hi":359.4,"lo":215.4,"v":20.5},{"l":"0.7","hi":359.4,"lo":215.4,"v":20.5},{"l":"0.8","hi":359.4,"lo":215.4,"v":20.5},{"l":"0.9","hi":359.4,"lo":215.4,"v":21},
   {"l":"0.0","hi":215.4,"lo":129.2,"v":1},{"l":"0.1","hi":215.4,"lo":129.2,"v":14.5},{"l":"0.2","hi":215.4,"lo":129.2,"v":16.5},{"l":"0.3","hi":215.4,"lo":129.2,"v":17.5},{"l":"0.4","hi":215.4,"lo":129.2,"v":18.5},{"l":"0.5","hi":215.4,"lo":129.2,"v":19},{"l":"0.6","hi":215.4,"lo":129.2,"v":20.5},{"l":"0.7","hi":215.4,"lo":129.2,"v":20.5},{"l":"0.8","hi":215.4,"lo":129.2,"v":20},{"l":"0.9","hi":215.4,"lo":129.2,"v":20.5},
   {"l":"0.0","hi":129.2,"lo":77.43,"v":1},{"l":"0.1","hi":129.2,"lo":77.43,"v":15.5},{"l":"0.2","hi":129.2,"lo":77.43,"v":16.5},{"l":"0.3","hi":129.2,"lo":77.43,"v":16.5},{"l":"0.4","hi":129.2,"lo":77.43,"v":17.5},{"l":"0.5","hi":129.2,"lo":77.43,"v":18.5},{"l":"0.6","hi":129.2,"lo":77.43,"v":19.5},{"l":"0.7","hi":129.2,"lo":77.43,"v":19.5},{"l":"0.8","hi":129.2,"lo":77.43,"v":19.5},{"l":"0.9","hi":129.2,"lo":77.43,"v":19.5},
   {"l":"0.0","hi":77.43,"lo":46.42,"v":1},{"l":"0.1","hi":77.43,"lo":46.42,"v":14},{"l":"0.2","hi":77.43,"lo":46.42,"v":13.5},{"l":"0.3","hi":77.43,"lo":46.42,"v":15.5},{"l":"0.4","hi":77.43,"lo":46.42,"v":16},{"l":"0.5","hi":77.43,"lo":46.42,"v":16.5},{"l":"0.6","hi":77.43,"lo":46.42,"v":17.5},{"l":"0.7","hi":77.43,"lo":46.42,"v":18},{"l":"0.8","hi":77.43,"lo":46.42,"v":18},{"l":"0.9","hi":77.43,"lo":46.42,"v":15},
   {"l":"0.0","hi":46.42,"lo":27.83,"v":1},{"l":"0.1","hi":46.42,"lo":27.83,"v":12},{"l":"0.2","hi":46.42,"lo":27.83,"v":14},{"l":"0.3","hi":46.42,"lo":27.83,"v":14.5},{"l":"0.4","hi":46.42,"lo":27.83,"v":15},{"l":"0.5","hi":46.42,"lo":27.83,"v":15.5},{"l":"0.6","hi":46.42,"lo":27.83,"v":15.5},{"l":"0.7","hi":46.42,"lo":27.83,"v":15},{"l":"0.8","hi":46.42,"lo":27.83,"v":14.5},{"l":"0.9","hi":46.42,"lo":27.83,"v":6},
   {"l":"0.0","hi":27.83,"lo":16.68,"v":1},{"l":"0.1","hi":27.83,"lo":16.68,"v":10.5},{"l":"0.2","hi":27.83,"lo":16.68,"v":12},{"l":"0.3","hi":27.83,"lo":16.68,"v":12},{"l":"0.4","hi":27.83,"lo":16.68,"v":12.5},{"l":"0.5","hi":27.83,"lo":16.68,"v":12.5},{"l":"0.6","hi":27.83,"lo":16.68,"v":12.5},{"l":"0.7","hi":27.83,"lo":16.68,"v":10.5},{"l":"0.8","hi":27.83,"lo":16.68,"v":7},{"l":"0.9","hi":27.83,"lo":16.68,"v":2},
   {"l":"0.0","hi":16.68,"lo":10,"v":1},{"l":"0.1","hi":16.68,"lo":10,"v":9},{"l":"0.2","hi":16.68,"lo":10,"v":9.5},{"l":"0.3","hi":16.68,"lo":10,"v":9.5},{"l":"0.4","hi":16.68,"lo":10,"v":9},{"l":"0.5","hi":16.68,"lo":10,"v":8},{"l":"0.6","hi":16.68,"lo":10,"v":7.5},{"l":"0.7","hi":16.68,"lo":10,"v":5},{"l":"0.8","hi":16.68,"lo":10,"v":3},{"l":"0.9","hi":16.68,"lo":10,"v":1.5},
   {"l":"0.0","hi":10,"lo":5.995,"v":1},{"l":"0.1","hi":10,"lo":5.995,"v":5.5},{"l":"0.2","hi":10,"lo":5.995,"v":5.5},{"l":"0.3","hi":10,"lo":5.995,"v":5.5},{"l":"0.4","hi":10,"lo":5.995,"v":5},{"l":"0.5","hi":10,"lo":5.995,"v":5},{"l":"0.6","hi":10,"lo":5.995,"v":4},{"l":"0.7","hi":10,"lo":5.995,"v":2},{"l":"0.8","hi":10,"lo":5.995,"v":1.5},{"l":"0.9","hi":10,"lo":5.995,"v":0.5}
  ],
  "Gamma_sampling": [
   {"l":"0.0","hi":1000,"lo":599.5,"v":1},{"l":"0.1","hi":1000,"lo":599.5,"v":8.5},{"l":"0.2","hi":1000,"lo":599.5,"v":10},{"l":"0.3","hi":1000,"lo":599.5,"v":12},{"l":"0.4","hi":1000,"lo":599.5,"v":13},{"l":"0.5","hi":1000,"lo":599.5,"v":15},{"l":"0.6","hi":1000,"lo":599.5,"v":16.5},{"l":"0.7","hi":1000,"lo":599.5,"v":19.5},{"l":"0.8","hi":1000,"lo":599.5,"v":22},{"l":"0.9","hi":1000,"lo":599.5,"v":26},
   {"l":"0.0","hi":599.5,"lo":359.4,"v":1},{"l":"0.1","hi":599.5,"lo":359.4,"v":8.5},{"l":"0.2","hi":599.5,"lo":359.4,"v":10},{"l":"0.3","hi":599.5,"lo":359.4,"v":11.5},{"l":"0.4","hi":599.5,"lo":359.4,"v":13},{"l":"0.5","hi":599.5,"lo":359.4,"v":15},{"l":"0.6","hi":599.5,"lo":359.4,"v":16.5},{"l":"0.7","hi":599.5,"lo":359.4,"v":19.5},{"l":"0.8","hi":599.5,"lo":359.4,"v":22.5},{"l":"0.9","hi":599.5,"lo":359.4,"v":25},
   {"l":"0.0","hi":359.4,"lo":215.4,"v":1},{"l":"0.1","hi":359.4,"lo":215.4,"v":7.5},{"l":"0.2","hi":359.4,"lo":215.4,"v":9.5},{"l":"0.3","hi":359.4,"lo":215.4,"v":11},{"l":"0.4","hi":359.4,"lo":215.4,"v":12.5},{"l":"0.5","hi":359.4,"lo":215.4,"v":14.5},{"l":"0.6","hi":359.4,"lo":215.4,"v":16.5},{"l":"0.7","hi":359.4,"lo":215.4,"v":19.5},{"l":"0.8","hi":359.4,"lo":215.4,"v":22},{"l":"0.9","hi":359.4,"lo":215.4,"v":25},
   {"l":"0.0","hi":215.4,"lo":129.2,"v":1},{"l":"0.1","hi":215.4,"lo":129.2,"v":7},{"l":"0.2","hi":215.4,"lo":129.2,"v":9.5},{"l":"0.3","hi":215.4,"lo":129.2,"v":10},{"l":"0.4","hi":215.4,"lo":129.2,"v":12},{"l":"0.5","hi":215.4,"lo":129.2,"v":13.5},{"l":"0.6","hi":215.4,"lo":129.2,"v":16},{"l":"0.7","hi":215.4,"lo":129.2,"v":18.5},{"l":"0.8","hi":215.4,"lo":129.2,"v":21},{"l":"0.9","hi":215.4,"lo":129.2,"v":23.5},
   {"l":"0.0","hi":129.2,"lo":77.43,"v":1},{"l":"0.1","hi":129.2,"lo":77.43,"v":5.5},{"l":"0.2","hi":129.2,"lo":77.43,"v":8.5},{"l":"0.3","hi":129.2,"lo":77.43,"v":10},{"l":"0.4","hi":129.2,"lo":77.43,"v":11},{"l":"0.5","hi":129.2,"lo":77.43,"v":12},{"l":"0.6","hi":129.2,"lo":77.43,"v":14.5},{"l":"0.7","hi":129.2,"lo":77.43,"v":17},{"l":"0.8","hi":129.2,"lo":77.43,"v":18.5},{"l":"0.9","hi":129.2,"lo":77.43,"v":19.5},
   {"l":"0.0","hi":77.43,"lo":46.42,"v":1},{"l":"0.1","hi":77.43,"lo":46.42,"v":4.5},{"l":"0.2","hi":77.43,"lo":46.42,"v":6.5},{"l":"0.3","hi":77.43,"lo":46.42,"v":8.5},{"l":"0.4","hi":77.43,"lo":46.42,"v":10},{"l":"0.5","hi":77.43,"lo":46.42,"v":11},{"l":"0.6","hi":77.43,"lo":46.42,"v":12.5},{"l":"0.7","hi":77.43,"lo":46.42,"v":14},{"l":"0.8","hi":77.43,"lo":46.42,"v":16},{"l":"0.9","hi":77.43,"lo":46.42,"v":11},
   {"l":"0.0","hi":46.42,"lo":27.83,"v":1},{"l":"0.1","hi":46.42,"lo":27.83,"v":3},{"l":"0.2","hi":46.42,"lo":27.83,"v":6},{"l":"0.3","hi":46.42,"lo":27.83,"v":7},{"l":"0.4","hi":46.42,"lo":27.83,"v":8.5},{"l":"0.5","hi":46.42,"lo":27.83,"v":9},{"l":"0.6","hi":46.42,"lo":27.83,"v":10},{"l":"0.7","hi":46.42,"lo":27.83,"v":10.5},{"l":"0.8","hi":46.42,"lo":27.83,"v":10.5},{"l":"0.9","hi":46.42,"lo":27.83,"v":6},
   {"l":"0.0","hi":27.83,"lo":16.68,"v":1},{"l":"0.1","hi":27.83,"lo":16.68,"v":2},{"l":"0.2","hi":27.83,"lo":16.68,"v":3},{"l":"0.3","hi":27.83,"lo":16.68,"v":5},{"l":"0.4","hi":27.83,"lo":16.68,"v":6},{"l":"0.5","hi":27.83,"lo":16.68,"v":6.5},{"l":"0.6","hi":27.83,"lo":16.68,"v":7.5},{"l":"0.7","hi":27.83,"lo":16.68,"v":7},{"l":"0.8","hi":27.83,"lo":16.68,"v":5.5},{"l":"0.9","hi":27.83,"lo":16.68,"v":2.5},
   {"l":"0.0","hi":16.68,"lo":10,"v":1},{"l":"0.1","hi":16.68,"lo":10,"v":1.5},{"l":"0.2","hi":16.68,"lo":10,"v":2.5},{"l":"0.3","hi":16.68,"lo":10,"v":3},{"l":"0.4","hi":16.68,"lo":10,"v":3.5},{"l":"0.5","hi":16.68,"lo":10,"v":4},{"l":"0.6","hi":16.68,"lo":10,"v":4},{"l":"0.7","hi":16.68,"lo":10,"v":3},{"l":"0.8","hi":16.68,"lo":10,"v":2},{"l":"0.9","hi":16.68,"lo":10,"v":1},
   {"l":"0.0","hi":10,"lo":5.995,"v":1},{"l":"0.1","hi":10,"lo":5.995,"v":1.5},{"l":"0.2","hi":10,"lo":5.995,"v":2},{"l":"0.3","hi":10,"lo":5.995,"v":2},{"l":"0.4","hi":10,"lo":5.995,"v":2.5},{"l":"0.5","hi":10,"lo":5.995,"v":2.5},{"l":"0.6","hi":10,"lo":5.995,"v":2.5},{"l":"0.7","hi":10,"lo":5.995,"v":1.5},{"l":"0.8","hi":10,"lo":5.995,"v":1},{"l":"0.9","hi":10,"lo":5.995,"v":1}
  ]
 }
}
